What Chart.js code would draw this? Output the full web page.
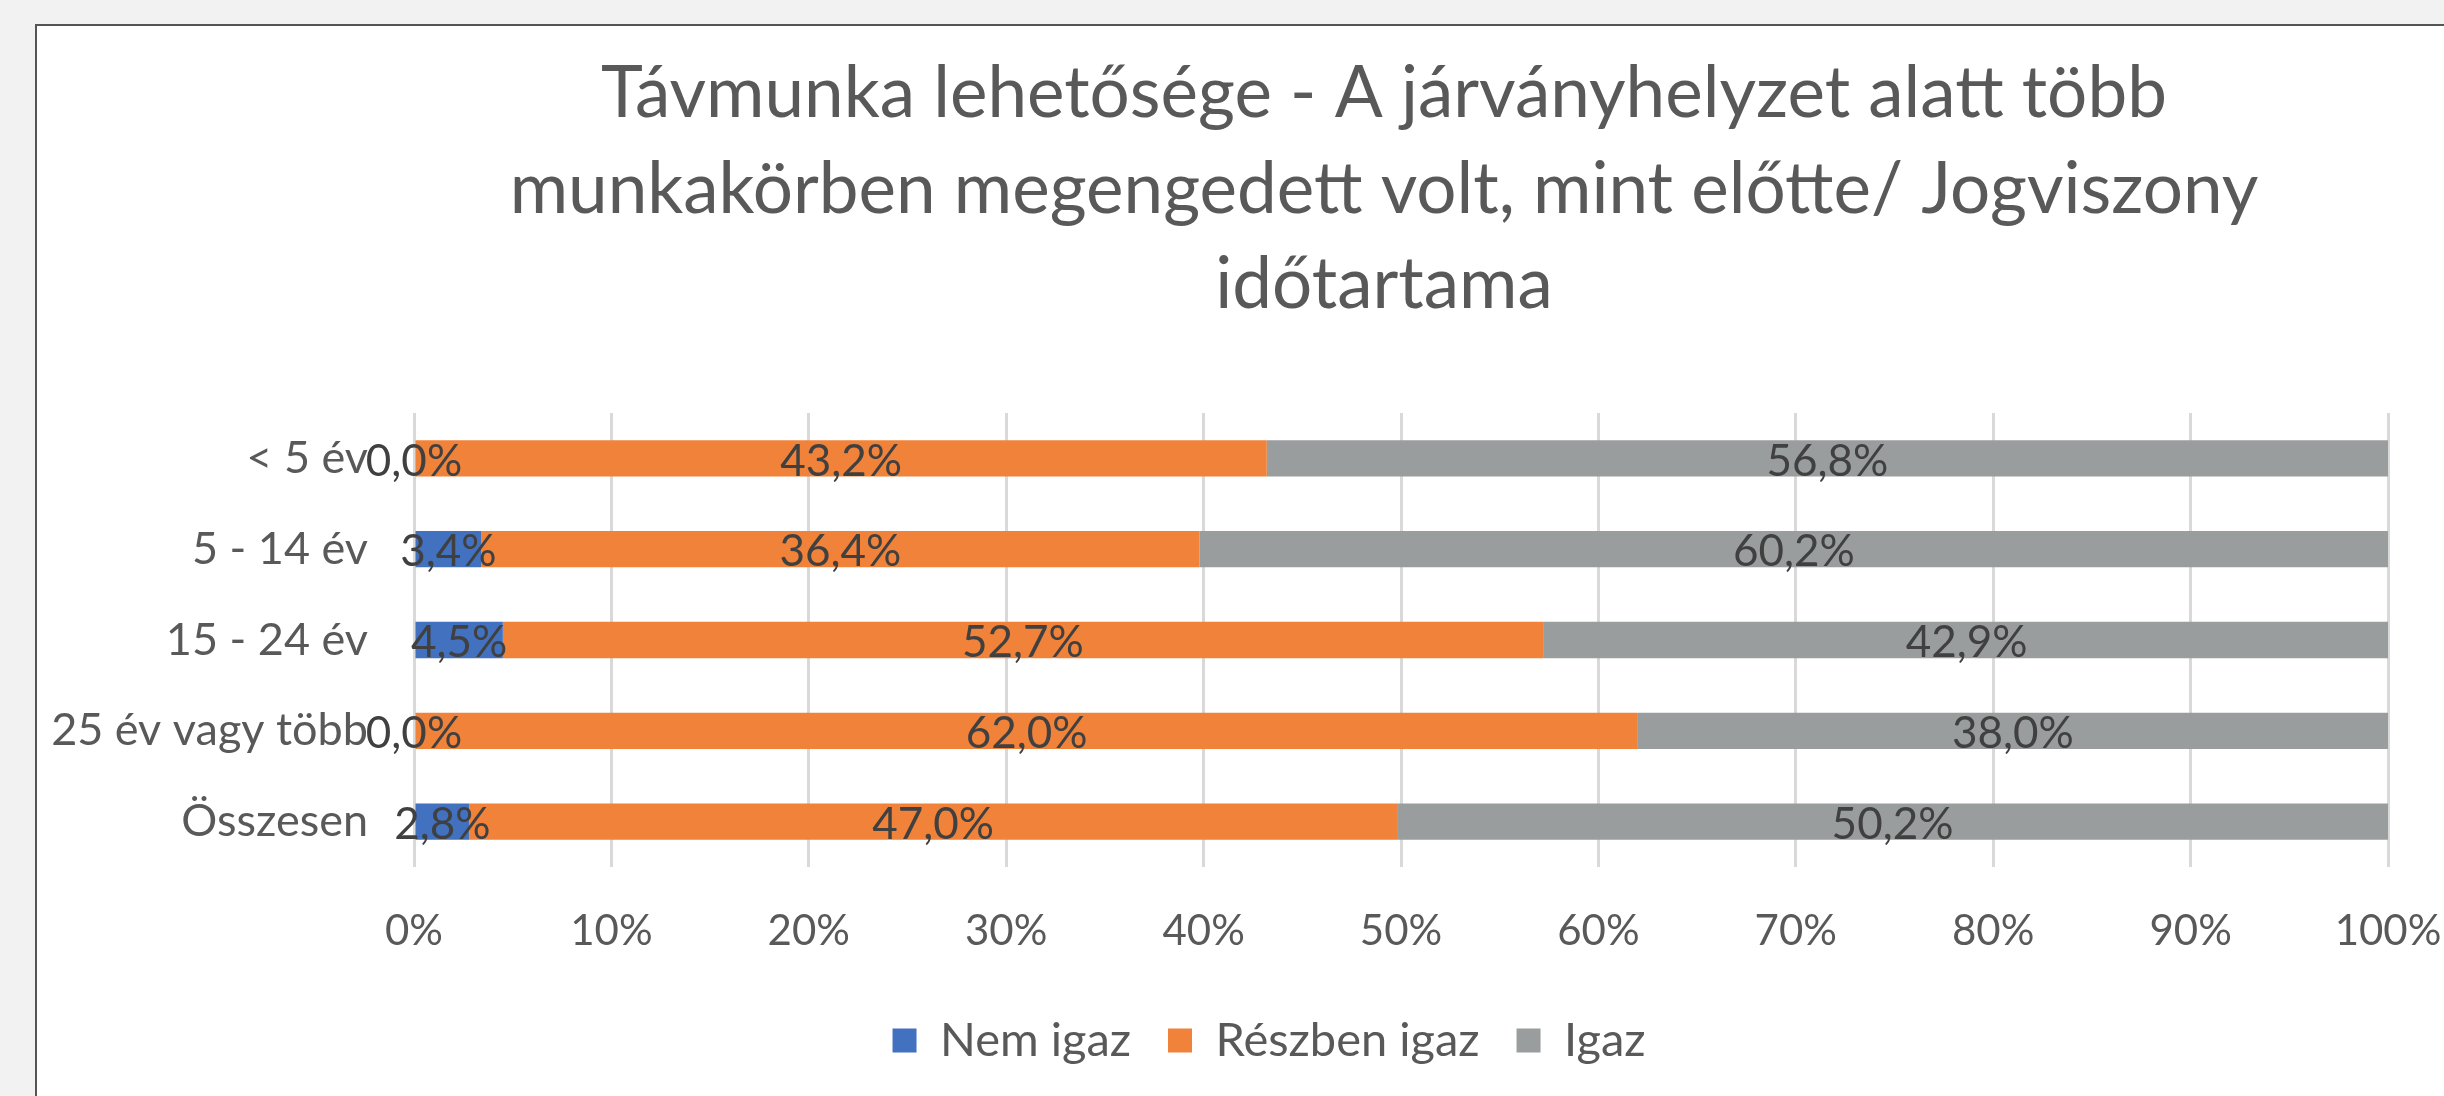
<!DOCTYPE html>
<html><head><meta charset="utf-8">
<script src="https://cdn.jsdelivr.net/npm/chart.js@4.4.1/dist/chart.umd.min.js"></script>
<style>
html,body{margin:0;padding:0;width:2444px;height:1096px;overflow:hidden;background:#f2f2f2;}
#frame{position:absolute;left:35px;top:24px;width:2600px;height:1200px;background:#fff;border-left:2px solid #555;border-top:2px solid #555;}
#wrap{position:absolute;left:0;top:0;width:2464px;height:1048px;}
</style></head><body>
<div id="frame"><div id="wrap"><canvas id="c"></canvas></div></div>
<script>
const categories = ['< 5 év', '5 - 14 év', '15 - 24 év', '25 év vagy több', 'Összesen'];
const seriesNames = ['Nem igaz', 'Részben igaz', 'Igaz'];
const nemIgaz = [0.0, 3.4, 4.5, 0.0, 2.8];
const reszbenIgaz = [43.2, 36.4, 52.7, 62.0, 47.0];
const igaz = [56.8, 60.2, 42.9, 38.0, 50.2];
const xTickValues = [0, 10, 20, 30, 40, 50, 60, 70, 80, 90, 100];
const titleLines = ['Távmunka lehetősége - A járványhelyzet alatt több', 'munkakörben megengedett volt, mint előtte/ Jogviszony', 'időtartama'];

const FONT = 'Lato, "Open Sans", sans-serif';
const fmt = v => v.toFixed(1).replace('.', ',') + '%';

const titlePlugin = {
  id: 'customTitle',
  afterLayout(chart) {
    // let long category labels extend past the axis box (no clipping)
    Object.values(chart.scales).forEach(s => { s._computeLabelArea = () => undefined; });
  },
  afterDraw(chart) {
    const ctx = chart.ctx;
    ctx.save();
    ctx.fillStyle = '#595959';
    ctx.font = '71px ' + FONT;
    ctx.textAlign = 'center';
    ctx.textBaseline = 'middle';
    const cx = 1347, ys = [68, 164, 259];
    titleLines.forEach((t, i) => ctx.fillText(t, cx, ys[i]));
    ctx.restore();
  }
};

const labelPlugin = {
  id: 'barLabels',
  afterDatasetsDraw(chart) {
    const ctx = chart.ctx;
    ctx.save();
    ctx.fillStyle = '#404040';
    ctx.font = '44px ' + FONT;
    ctx.textAlign = 'center';
    ctx.textBaseline = 'middle';
    chart.data.datasets.forEach((ds, di) => {
      const meta = chart.getDatasetMeta(di);
      meta.data.forEach((el, i) => {
        const x = (el.x + el.base) / 2;
        ctx.fillText(fmt(ds.data[i]), x, el.y + 3);
      });
    });
    ctx.restore();
  }
};

const colors = ['#4171bf', '#f0823a', '#9a9d9e'];
const seriesData = [nemIgaz, reszbenIgaz, igaz];

new Chart(document.getElementById('c'), {
  type: 'bar',
  data: {
    labels: categories,
    datasets: seriesNames.map((n, i) => ({
      label: n,
      data: seriesData[i],
      backgroundColor: colors[i],
      borderWidth: 0,
      barPercentage: 0.4,
      categoryPercentage: 1.0
    }))
  },
  options: {
    indexAxis: 'y',
    responsive: true,
    maintainAspectRatio: false,
    animation: false,
    layout: { padding: { left: 113, right: 113, top: 387, bottom: 0 } },
    plugins: {
      title: { display: false },
      tooltip: { enabled: false },
      legend: {
        position: 'bottom',
        labels: {
          boxWidth: 24, boxHeight: 24, padding: 37,
          color: '#595959',
          font: { family: FONT, size: 47 }
        }
      }
    },
    scales: {
      x: {
        stacked: true,
        min: 0, max: 100,
        afterBuildTicks: s => { s.ticks = xTickValues.map(v => ({ value: v })); },
        ticks: {
          callback: v => v + '%',
          color: '#595959',
          padding: 39,
          font: { family: FONT, size: 42 }
        },
        grid: { color: '#d9d9d9', lineWidth: 3, drawTicks: false },
        border: { display: false },
        afterFit: s => { s.height = 1048 - 94 - 841; }
      },
      y: {
        stacked: true,
        ticks: {
          color: '#595959',
          padding: 46,
          font: { family: FONT, size: 45 }
        },
        grid: { display: false, drawTicks: false },
        border: { display: false },
        afterFit: s => { s.width = 264; }
      }
    }
  },
  plugins: [titlePlugin, labelPlugin]
});
</script>
</body></html>
